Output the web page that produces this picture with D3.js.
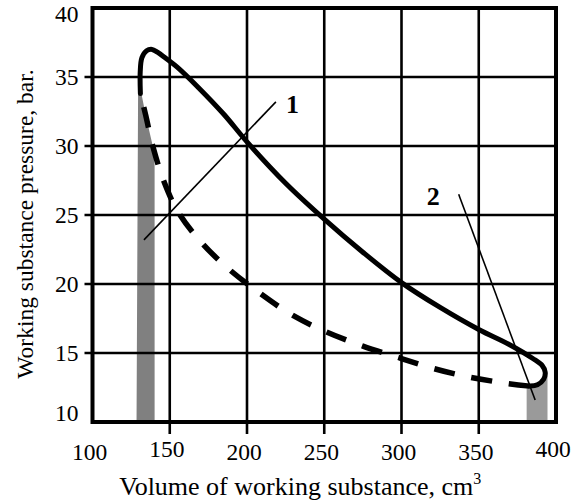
<!DOCTYPE html>
<html>
<head>
<meta charset="utf-8">
<script src="https://cdn.jsdelivr.net/npm/d3@7"></script>
<style>
  body { margin: 0; background: #fff; }
  text { font-family: "Liberation Serif", "Times New Roman", serif; }
</style>
</head>
<body>
<svg id="chart" width="580" height="504"></svg>
<script>
// ticks
const xTicks = [100, 150, 200, 250, 300, 350, 400];
const yTicks = [10, 15, 20, 25, 30, 35, 40];

// expansion (solid) - volume cm3, pressure bar
const expansion = [
  [131.0, 33.8], [130.9, 35.4], [132, 36.4], [135, 36.9], [138.5, 37.0], [142, 36.8],
  [147, 36.4], [155, 35.7], [168, 34.3], [185, 32.3], [200, 30.3], [225, 27.3],
  [250, 24.7], [275, 22.3], [300, 20.1], [325, 18.3], [350, 16.7], [370, 15.6],
  [385, 14.6], [391, 14.1], [393, 13.6], [392, 13.1], [388, 12.7], [383, 12.6]
];

// compression (dashed)
const compression = [
  [383, 12.6], [368, 12.8], [342, 13.3], [320, 13.9], [300, 14.6], [275, 15.5],
  [250, 16.6], [230, 17.7], [210, 19.2], [187, 21.2], [169, 23.2], [155, 25.3],
  [146, 27.5], [139, 30], [134.5, 32.2], [131.0, 33.8]
];

// shaded areas
const leftShade = [
  [128.5, 10], [129.5, 33.8], [131.3, 34.0], [134.5, 32.2], [139, 30], [140.2, 28.6], [140.2, 10]
];
const rightShade = [
  [381, 10], [381, 12.65], [385, 12.65], [389, 12.8], [393, 13.2], [394.5, 13.6], [394.5, 10]
];

// pointer lines and their numbers
const pointerLines = [
  { label: "1", from: [133.3, 23.2], to: [218.7, 33.2], text: [229.5, 32.4] },
  { label: "2", from: [337, 26.5], to: [386.5, 11.6], text: [320.6, 25.7] }
];

const margin = { top: 8, right: 24, bottom: 82, left: 92.5 };
const width = 580 - margin.left - margin.right;
const height = 504 - margin.top - margin.bottom;

const svg = d3.select("#chart")
  .append("g")
  .attr("transform", `translate(${margin.left},${margin.top})`);

const x = d3.scaleLinear().domain([100, 400]).range([0, width]);
const y = d3.scaleLinear().domain([10, 40]).range([height, 0]);

// shading first, grid over it
const area = d3.line().x(d => x(d[0])).y(d => y(d[1]));
svg.append("path").attr("d", area(leftShade) + "Z").attr("fill", "#808080");
svg.append("path").attr("d", area(rightShade) + "Z").attr("fill", "#9a9a9a");

// grid lines (interior), sticking out as ticks
svg.selectAll(".vgrid")
  .data(xTicks.slice(1, -1))
  .enter().append("line")
  .attr("x1", d => x(d)).attr("x2", d => x(d))
  .attr("y1", 0).attr("y2", height + 12)
  .attr("stroke", "#000").attr("stroke-width", 2.6);

svg.selectAll(".hgrid")
  .data(yTicks.slice(1, -1))
  .enter().append("line")
  .attr("x1", -8).attr("x2", width)
  .attr("y1", d => y(d)).attr("y2", d => y(d))
  .attr("stroke", "#000").attr("stroke-width", 2.6);

// frame
svg.append("rect")
  .attr("width", width).attr("height", height)
  .attr("fill", "none").attr("stroke", "#000").attr("stroke-width", 4);

// tick labels
const xRaised = [150, 400];
svg.selectAll(".xlab")
  .data(xTicks)
  .enter().append("text")
  .attr("x", d => x(d) - 3)
  .attr("y", d => height + (xRaised.includes(d) ? 35 : 38))
  .attr("text-anchor", "middle")
  .style("font-size", "23.5px")
  .text(d => d);

svg.selectAll(".ylab")
  .data(yTicks)
  .enter().append("text")
  .attr("x", -14)
  .attr("y", d => y(d) + (d === 40 ? 14 : d === 10 ? -1 : 8))
  .attr("text-anchor", "end")
  .style("font-size", "23.5px")
  .text(d => d);

// axis titles
const xTitle = svg.append("text")
  .attr("x", width / 2 - 24)
  .attr("y", height + 73)
  .attr("text-anchor", "middle")
  .style("font-size", "26px");
xTitle.append("tspan").text("Volume of working substance, cm");
xTitle.append("tspan").attr("dy", -11).style("font-size", "16px").text("3");

svg.append("text")
  .attr("transform", "rotate(-90)")
  .attr("x", -216)
  .attr("y", -60)
  .attr("text-anchor", "middle")
  .style("font-size", "23.5px")
  .text("Working substance pressure, bar.");

// cycle curves
const curve = d3.line()
  .x(d => x(d[0])).y(d => y(d[1]))
  .curve(d3.curveCatmullRom.alpha(0.5));

svg.append("path")
  .attr("d", curve(compression))
  .attr("fill", "none").attr("stroke", "#000")
  .attr("stroke-width", 5.5)
  .attr("stroke-dasharray", "21,17");

svg.append("path")
  .attr("d", curve(expansion))
  .attr("fill", "none").attr("stroke", "#000")
  .attr("stroke-width", 5)
  .attr("stroke-linecap", "round");

// pointers
svg.selectAll(".pointer")
  .data(pointerLines)
  .enter().append("line")
  .attr("x1", d => x(d.from[0])).attr("y1", d => y(d.from[1]))
  .attr("x2", d => x(d.to[0])).attr("y2", d => y(d.to[1]))
  .attr("stroke", "#000").attr("stroke-width", 1.6);

svg.selectAll(".plabel")
  .data(pointerLines)
  .enter().append("text")
  .attr("x", d => x(d.text[0])).attr("y", d => y(d.text[1]))
  .attr("text-anchor", "middle")
  .style("font-size", "26px")
  .style("font-weight", "bold")
  .text(d => d.label);
</script>
</body>
</html>
